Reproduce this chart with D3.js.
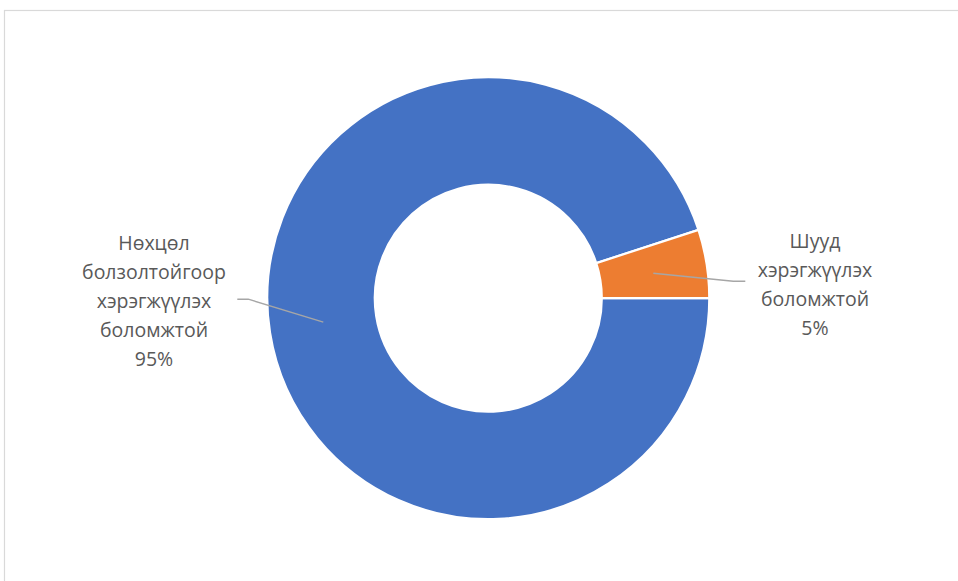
<!DOCTYPE html>
<html>
<head>
<meta charset="utf-8">
<script src="https://cdn.jsdelivr.net/npm/d3@7"></script>
<style>
  body { margin: 0; background: #fff; }
  svg { display: block; }
</style>
</head>
<body>
<svg id="chart" width="958" height="581"></svg>
<script>
// slice data, in drawing order (starts at 3 o'clock, clockwise)
let categories = ["Нөхцөл болзолтойгоор хэрэгжүүлэх боломжтой", "Шууд хэрэгжүүлэх боломжтой"];
let values = [95, 5];
let labelLines = [
  ["Нөхцөл", "болзолтойгоор", "хэрэгжүүлэх", "боломжтой", "95%"],
  ["Шууд", "хэрэгжүүлэх", "боломжтой", "5%"]
];
let colors = ["#4472C4", "#ED7D31"];

let width = 958;
let height = 581;
let cx = 488.3, cy = 298.2;
let outerR = 221;
let innerR = 113.5;

let svg = d3.select("#chart");

// chart area border (only top and left are visible in the crop)
svg.append("rect")
  .attr("x", 4.5)
  .attr("y", 10.5)
  .attr("width", 1000)
  .attr("height", 1000)
  .attr("fill", "none")
  .attr("stroke", "#d9d9d9")
  .attr("stroke-width", 1.2);

let pie = d3.pie()
  .sort(null)
  .startAngle(Math.PI / 2)
  .endAngle(Math.PI / 2 + 2 * Math.PI);
let arcs = pie(values);

let arc = d3.arc().innerRadius(innerR).outerRadius(outerR);

let g = svg.append("g").attr("transform", "translate(" + cx + "," + cy + ")");

g.selectAll("path.slice")
  .data(arcs)
  .enter().append("path")
  .attr("class", "slice")
  .attr("d", arc)
  .attr("fill", (d, i) => colors[i])
  .attr("stroke", "#fff")
  .attr("stroke-width", 2.2)
  .attr("stroke-linejoin", "miter");

// label positions and leader line anchors
let labelPos = [
  { x: 154, y: 243, anchor: [-165, 24], elbow: [-240, 1], end: [-251, 1] },
  { x: 815, y: 241, anchor: [165, -25], elbow: [245, -17], end: [257, -17] }
];

let lineH = 29;
labelPos.forEach(function (p, i) {
  let pts = [p.anchor, p.elbow, p.end];
  g.append("path")
    .attr("d", d3.line()(pts))
    .attr("fill", "none")
    .attr("stroke", "#a6a6a6")
    .attr("stroke-width", 1.4);

  let t = svg.append("text")
    .attr("x", p.x)
    .attr("y", p.y)
    .attr("text-anchor", "middle")
    .attr("fill", "#595959")
    .style("font-family", "'Open Sans', 'Noto Sans', sans-serif")
    .style("font-size", "19.5px");
  labelLines[i].forEach(function (line, j) {
    t.append("tspan")
      .attr("x", p.x)
      .attr("dy", j == 0 ? "0.35em" : lineH)
      .text(line);
  });
});
</script>
</body>
</html>
